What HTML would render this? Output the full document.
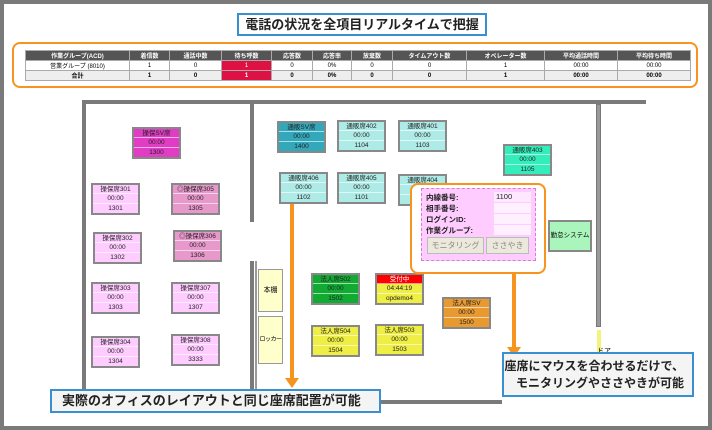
<!DOCTYPE html>
<html><head><meta charset="utf-8"><style>
*{margin:0;padding:0;box-sizing:border-box}
body{width:712px;height:430px;position:relative;background:#fff;font-family:"Liberation Sans","Noto Sans CJK JP",sans-serif;overflow:hidden}
.a{position:absolute}
.frame{left:0;top:0;width:712px;height:430px;border:4px solid #7a7a7a}
.title{left:237px;top:13px;width:250px;height:23px;border:2px solid #3a8fd0;font-size:13px;font-weight:bold;text-align:center;line-height:19px;color:#222}
.tw{left:12px;top:42px;width:686px;height:46px;border:2px solid #f7941d;border-radius:8px}
table{position:absolute;left:25px;top:50px;width:665px;border-collapse:collapse;font-size:6px;text-align:center;table-layout:fixed}
td,th{border:1px solid #aaa;height:10px;padding:0;white-space:nowrap;overflow:hidden}
th{background:#555;color:#fff;font-weight:bold}
tr.t td{background:#eee;font-weight:bold}
.red{background:#dd1144 !important;color:#fff}
.w{background:#7a7a7a}
.s{position:absolute;width:49px;height:32px;border:2px solid #888;font-size:6.5px;text-align:center;color:#222;white-space:nowrap}
.s div{height:9.33px;line-height:9px;border-bottom:1px solid rgba(255,255,255,.6)}
.s div:last-child{border-bottom:none}
.box{border:2px solid #3a8fd0;background:#f4f4f4;font-size:13px;font-weight:bold;color:#222;white-space:nowrap}
.or{background:#f7941d}
</style></head><body>
<div class="a frame"></div>
<div class="a title">電話の状況を全項目リアルタイムで把握</div>
<div class="a tw"></div>
<table>
<colgroup><col style="width:104px"><col style="width:40px"><col style="width:52px"><col style="width:50px"><col style="width:41px"><col style="width:39px"><col style="width:41px"><col style="width:74px"><col style="width:78px"><col style="width:73px"><col style="width:73px"></colgroup>
<tr><th>作業グループ(ACD)</th><th>着信数</th><th>通話中数</th><th>待ち呼数</th><th>応答数</th><th>応答率</th><th>放棄数</th><th>タイムアウト数</th><th>オペレーター数</th><th>平均通話時間</th><th>平均待ち時間</th></tr>
<tr><td>営業グループ (8010)</td><td>1</td><td>0</td><td class="red">1</td><td>0</td><td>0%</td><td>0</td><td>0</td><td>1</td><td>00:00</td><td>00:00</td></tr>
<tr class="t"><td>合計</td><td>1</td><td>0</td><td class="red">1</td><td>0</td><td>0%</td><td>0</td><td>0</td><td>1</td><td>00:00</td><td>00:00</td></tr>
</table>

<!-- walls -->
<div class="a w" style="left:82px;top:100px;width:564px;height:4px"></div>
<div class="a w" style="left:82px;top:100px;width:4px;height:304px"></div>
<div class="a w" style="left:82px;top:400px;width:420px;height:4px"></div>
<div class="a w" style="left:250px;top:104px;width:4px;height:118px"></div>
<div class="a w" style="left:250px;top:261px;width:4px;height:140px"></div>
<div class="a" style="left:255px;top:261px;width:2px;height:140px;background:#999"></div>
<div class="a" style="left:596px;top:104px;width:5px;height:223px;background:#999;border:1px solid #777"></div>
<div class="a" style="left:597px;top:330px;width:4px;height:26px;background:#f4f47a"></div>
<div class="a" style="left:597px;top:346px;font-size:7px">ドア</div>

<!-- seats left room -->
<div class="s" style="left:132px;top:127px;background:#e03cc4"><div>操保SV席</div><div>00:00</div><div>1300</div></div>
<div class="s" style="left:91px;top:183px;background:#ffccff"><div>操保席301</div><div>00:00</div><div>1301</div></div>
<div class="s" style="left:171px;top:183px;background:#e899cc"><div>◎操保席305</div><div>00:00</div><div>1305</div></div>
<div class="s" style="left:93px;top:232px;background:#ffccff"><div>操保席302</div><div>00:00</div><div>1302</div></div>
<div class="s" style="left:173px;top:230px;background:#e899cc"><div>◎操保席306</div><div>00:00</div><div>1306</div></div>
<div class="s" style="left:91px;top:282px;background:#ffccff"><div>操保席303</div><div>00:00</div><div>1303</div></div>
<div class="s" style="left:171px;top:282px;background:#ffccff"><div>操保席307</div><div>00:00</div><div>1307</div></div>
<div class="s" style="left:91px;top:336px;background:#ffccff"><div>操保席304</div><div>00:00</div><div>1304</div></div>
<div class="s" style="left:171px;top:334px;background:#ffccff"><div>操保席308</div><div>00:00</div><div>3333</div></div>

<!-- right room -->
<div class="s" style="left:277px;top:121px;background:#33a8bb"><div>通販SV席</div><div>00:00</div><div>1400</div></div>
<div class="s" style="left:337px;top:120px;background:#aeeae6"><div>通販席402</div><div>00:00</div><div>1104</div></div>
<div class="s" style="left:398px;top:120px;background:#aeeae6"><div>通販席401</div><div>00:00</div><div>1103</div></div>
<div class="s" style="left:279px;top:172px;background:#aeeae6"><div>通販席406</div><div>00:00</div><div>1102</div></div>
<div class="s" style="left:337px;top:172px;background:#aeeae6"><div>通販席405</div><div>00:00</div><div>1101</div></div>
<div class="s" style="left:398px;top:174px;background:#aeeae6"><div>通販席404</div><div>00:00</div><div>1100</div></div>
<div class="s" style="left:503px;top:144px;background:#33eebb"><div>通販席403</div><div>00:00</div><div>1105</div></div>
<div class="a" style="left:258px;top:269px;width:25px;height:43px;background:#ffffcc;border:1px solid #999;font-size:7px;text-align:center;line-height:41px">本棚</div>
<div class="a" style="left:258px;top:316px;width:25px;height:48px;background:#ffffcc;border:1px solid #999;font-size:6px;text-align:center;line-height:46px;white-space:nowrap;letter-spacing:-0.5px">ロッカー</div>
<div class="s" style="left:311px;top:273px;background:#11aa33"><div>法人席502</div><div>00:00</div><div>1502</div></div>
<div class="s" style="left:375px;top:273px;background:#eeee44"><div style="background:#ff0000;color:#fff">受付中</div><div>04:44:19</div><div>opdemo4</div></div>
<div class="s" style="left:442px;top:297px;background:#e89a30"><div>法人席SV</div><div>00:00</div><div>1500</div></div>
<div class="s" style="left:311px;top:325px;background:#eeee44"><div>法人席504</div><div>00:00</div><div>1504</div></div>
<div class="s" style="left:375px;top:324px;background:#eeee44"><div>法人席503</div><div>00:00</div><div>1503</div></div>
<div class="a" style="left:548px;top:220px;width:44px;height:32px;background:#aaf5bb;border:2px solid #888;font-size:6.5px;text-align:center;line-height:28px;white-space:nowrap">勤怠システム</div>

<!-- popup -->
<div class="a" style="left:410px;top:183px;width:136px;height:91px;border:2px solid #f7941d;border-radius:8px;background:#fff"></div>
<div class="a" style="left:421px;top:188px;width:115px;height:73px;background:#ffccff;border:1px dashed #d080d0;font-size:7.5px;font-weight:bold;color:#222">
<div class="a" style="left:4px;top:3px;line-height:11px;white-space:nowrap">内線番号:<br>相手番号:<br>ログインID:<br>作業グループ:</div>
<div class="a" style="left:72px;top:3px;width:37px;height:10px;background:#ffe8ff;font-weight:normal;padding-left:2px;line-height:10px">1100</div>
<div class="a" style="left:72px;top:14px;width:37px;height:10px;background:#fff0ff"></div>
<div class="a" style="left:72px;top:25px;width:37px;height:10px;background:#fff0ff"></div>
<div class="a" style="left:72px;top:36px;width:37px;height:10px;background:#fff0ff"></div>
<div class="a" style="left:5px;top:48px;width:57px;height:17px;background:#ebe8dc;border:1px solid #bbb;font-weight:normal;color:#888;text-align:center;line-height:15px;font-size:8px;white-space:nowrap">モニタリング</div>
<div class="a" style="left:64px;top:48px;width:43px;height:17px;background:#ebe8dc;border:1px solid #bbb;font-weight:normal;color:#888;text-align:center;line-height:15px;font-size:8px;white-space:nowrap">ささやき</div>
</div>

<!-- arrows -->
<div class="a or" style="left:290px;top:204px;width:4px;height:176px"></div>
<div class="a" style="left:285px;top:378px;border-left:7px solid transparent;border-right:7px solid transparent;border-top:10px solid #f7941d"></div>
<div class="a or" style="left:512px;top:274px;width:4px;height:76px"></div>
<div class="a" style="left:507px;top:347px;border-left:7px solid transparent;border-right:7px solid transparent;border-top:10px solid #f7941d"></div>

<div class="a box" style="left:50px;top:389px;width:331px;height:24px;line-height:20px;padding-left:10px">実際のオフィスのレイアウトと同じ座席配置が可能</div>
<div class="a box" style="left:502px;top:352px;width:192px;height:45px;line-height:17px;text-align:right;padding:4px 8px 0 0;font-size:12px">座席にマウスを合わせるだけで、<br>モニタリングやささやきが可能</div>
</body></html>
